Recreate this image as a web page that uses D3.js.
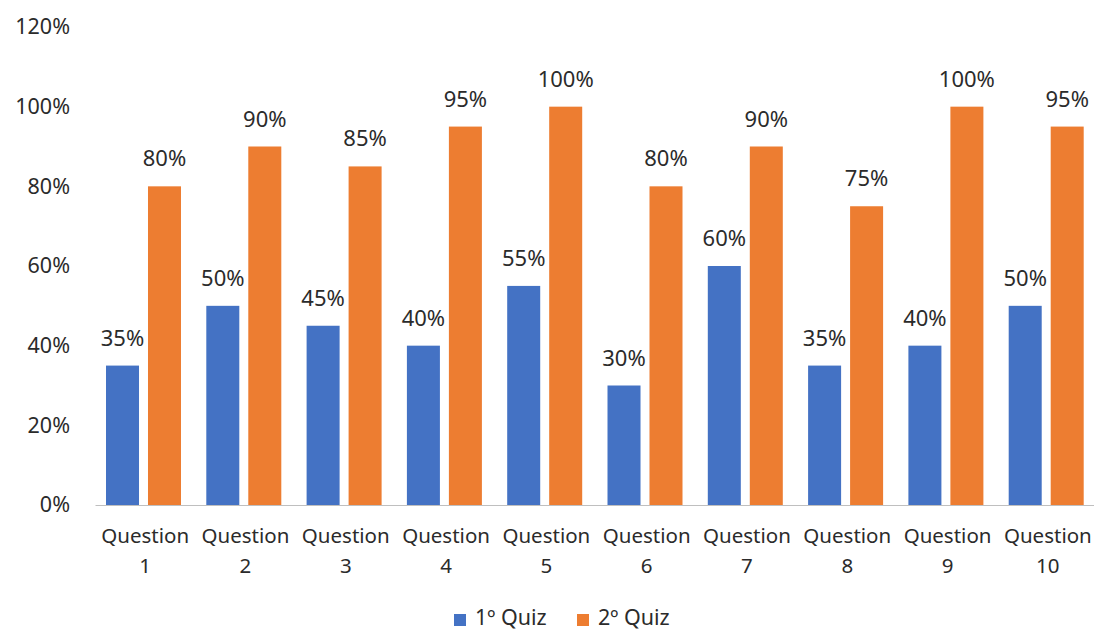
<!DOCTYPE html>
<html>
<head>
<meta charset="utf-8">
<script src="https://cdn.jsdelivr.net/npm/d3@7"></script>
<style>
  html, body { margin: 0; padding: 0; background: #fff; }
  svg { display: block; font-family: "Noto Sans", "Open Sans", sans-serif; }
</style>
</head>
<body>
<svg id="chart" width="1094" height="630"></svg>
<script>
// Quiz results per question (percent correct)
const categories = ["Question 1", "Question 2", "Question 3", "Question 4", "Question 5",
                    "Question 6", "Question 7", "Question 8", "Question 9", "Question 10"];
const seriesNames = ["1º Quiz", "2º Quiz"];
const quiz1 = [35, 50, 45, 40, 55, 30, 60, 35, 40, 50];
const quiz2 = [80, 90, 85, 95, 100, 80, 90, 75, 100, 95];
const yTicks = [0, 20, 40, 60, 80, 100, 120];
const colors = ["#4472C4", "#ED7D31"];

const svg = d3.select("#chart");
const textColor = "#2b2b2b";

const x = d3.scaleBand().domain(categories).range([95, 1098]).paddingInner(0).paddingOuter(0);
// two bars per category: 33px wide, 9px apart
const x1 = d3.scaleBand().domain(seriesNames).range([11, 86]).paddingInner(0.214).paddingOuter(0);
const y = d3.scaleLinear().domain([0, 120]).range([505, 27]);

// y-axis labels (no axis line, no gridlines)
const yAxis = d3.axisLeft(y).tickValues(yTicks).tickFormat(d => d + "%").tickSize(0).tickPadding(0);
const gy = svg.append("g").attr("transform", "translate(70,0)").call(yAxis);
gy.select(".domain").remove();
gy.selectAll("text").attr("fill", textColor).style("font-size", "21.5px")
  .style("font-family", "'Noto Sans', sans-serif");

// bars
const rows = categories.map((c, i) => ({ cat: c, values: [quiz1[i], quiz2[i]] }));
const groups = svg.append("g").selectAll("g").data(rows).join("g")
  .attr("transform", d => `translate(${x(d.cat)},0)`);

groups.selectAll("rect").data(d => d.values.map((v, k) => ({ v, s: seriesNames[k], k })))
  .join("rect")
  .attr("x", d => x1(d.s))
  .attr("width", x1.bandwidth())
  .attr("y", d => y(d.v))
  .attr("height", d => y(0) - y(d.v))
  .attr("fill", d => colors[d.k]);

groups.selectAll("text.val").data(d => d.values.map((v, k) => ({ v, s: seriesNames[k] })))
  .join("text").attr("class", "val")
  .attr("x", d => x1(d.s) + x1.bandwidth() / 2)
  .attr("y", d => y(d.v) - 20)
  .attr("text-anchor", "middle")
  .attr("fill", textColor)
  .style("font-size", "22px")
  .text(d => d.v + "%");

// x-axis baseline
const xAxis = d3.axisBottom(x).tickSize(0).tickFormat("");
const gx = svg.append("g").attr("transform", `translate(0,${y(0)})`).call(xAxis);
gx.select(".domain").attr("stroke", "#bfbfbf").attr("stroke-width", 1.2);

// two-line category labels
const catLabels = svg.append("g").selectAll("text").data(categories).join("text")
  .attr("x", d => x(d) + x.bandwidth() / 2)
  .attr("y", 543)
  .attr("text-anchor", "middle")
  .attr("fill", textColor)
  .style("font-size", "20.5px");
catLabels.each(function (d) {
  const parts = d.split(" ");
  const t = d3.select(this);
  t.append("tspan").attr("x", x(d) + x.bandwidth() / 2).text(parts[0]);
  t.append("tspan").attr("x", x(d) + x.bandwidth() / 2).attr("dy", 29.5).text(parts[1]);
});

// legend
const legendItems = [{ name: seriesNames[0], x: 454 }, { name: seriesNames[1], x: 577 }];
const lg = svg.append("g").selectAll("g").data(legendItems).join("g")
  .attr("transform", d => `translate(${d.x},0)`);
lg.append("rect").attr("x", 0).attr("y", 614).attr("width", 12).attr("height", 12)
  .attr("fill", (d, i) => colors[i]);
lg.append("text").attr("x", 21).attr("y", 625).attr("fill", textColor)
  .style("font-size", "21.5px").text(d => d.name);
</script>
</body>
</html>
